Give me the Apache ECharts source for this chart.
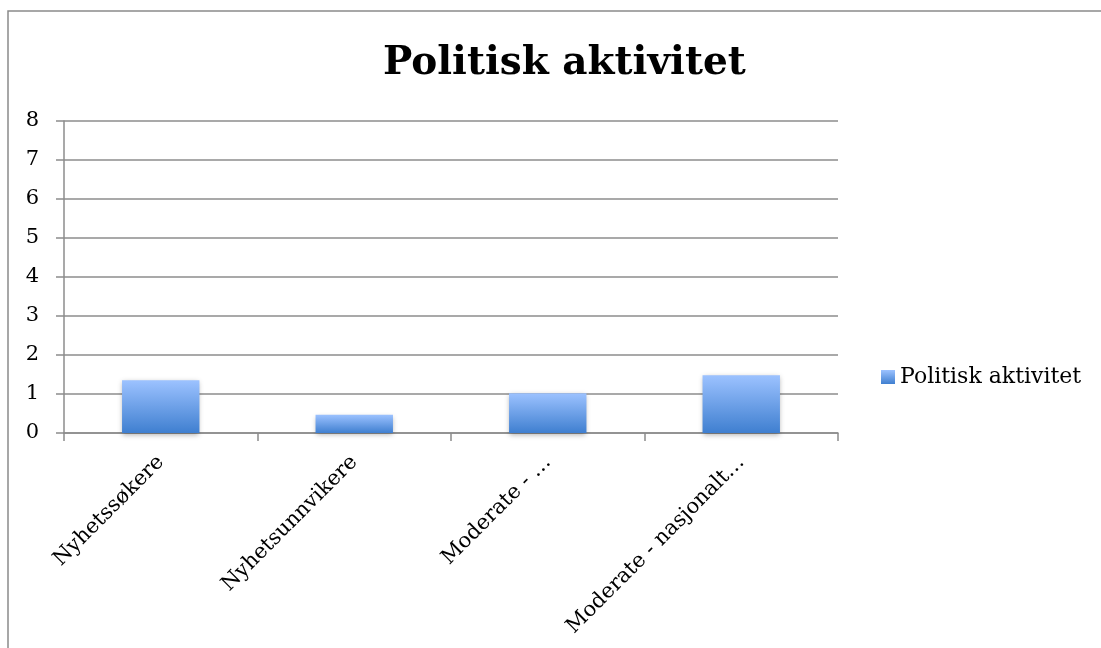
<!DOCTYPE html>
<html>
<head>
<meta charset="utf-8">
<script src="https://cdn.jsdelivr.net/npm/echarts@6/dist/echarts.min.js"></script>
<style>html,body{margin:0;padding:0;background:#fff}#c{width:1101px;height:648px}</style>
</head>
<body>
<div id="c"></div>
<script>
const titleText = 'Politisk aktivitet';
const seriesName = 'Politisk aktivitet';
const categories = ['Nyhetssøkere', 'Nyhetsunnvikere', 'Moderate - …', 'Moderate - nasjonalt…'];
const values = [1.35, 0.47, 1.02, 1.48];
const yTicks = { min: 0, max: 8, interval: 1 };

const font = 'DejaVu Serif';
const chart = echarts.init(document.getElementById('c'));
chart.setOption({
  animation: false,
  title: {
    text: titleText,
    left: 378, top: 39,
    textStyle: { fontFamily: font, fontSize: 39, fontWeight: 'bold', color: '#000' }
  },
  legend: {
    data: [seriesName],
    left: 876, top: 361,
    itemWidth: 14, itemHeight: 14, itemGap: 9,
    icon: 'rect',
    textStyle: { fontFamily: font, fontSize: 22, color: '#000' }
  },
  grid: { left: 64, right: 263, top: 121, bottom: 215 },
  xAxis: {
    type: 'category',
    data: categories,
    axisLine: { lineStyle: { color: '#8c8c8c', width: 1.5 } },
    axisTick: { show: true, length: 8, alignWithLabel: false, lineStyle: { color: '#8c8c8c', width: 1.5 } },
    axisLabel: { rotate: 45, fontFamily: font, fontSize: 21, color: '#000', margin: 26, interval: 0 }
  },
  yAxis: {
    type: 'value',
    min: yTicks.min, max: yTicks.max, interval: yTicks.interval,
    axisLine: { show: true, lineStyle: { color: '#8c8c8c', width: 1.5 } },
    axisTick: { show: true, length: 8, lineStyle: { color: '#8c8c8c', width: 1.5 } },
    splitLine: { lineStyle: { color: '#8c8c8c', width: 1.5 } },
    axisLabel: { fontFamily: font, fontSize: 21, color: '#000', margin: 25 }
  },
  graphic: [{
    type: 'rect', z: -1,
    shape: { x: 8, y: 11, width: 1200, height: 800 },
    style: { fill: 'none', stroke: '#8a8a8a', lineWidth: 1.5 }
  }],
  series: [{
    name: seriesName,
    type: 'bar',
    data: values,
    barWidth: '40%',
    itemStyle: {
      color: new echarts.graphic.LinearGradient(0, 0, 0, 1, [
        { offset: 0, color: '#9cc2ff' },
        { offset: 1, color: '#3f7fd0' }
      ]),
      shadowColor: 'rgba(0,0,0,0.3)', shadowBlur: 5, shadowOffsetY: 2
    }
  }]
});
</script>
</body>
</html>
